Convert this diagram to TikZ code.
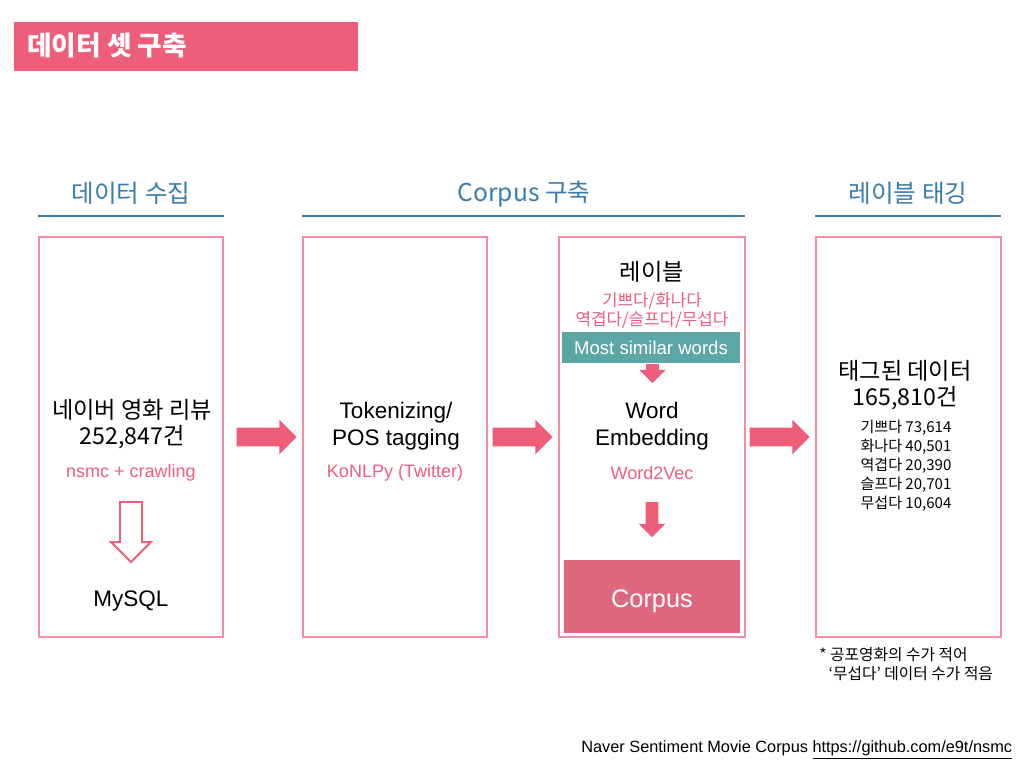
\documentclass[tikz,border=0pt]{standalone}
\usepackage{fontspec}
\usepackage{xcolor}
\setmainfont{Liberation Sans}
\newfontfamily\kr{Noto Sans CJK KR}
\usetikzlibrary{shapes.arrows}
\definecolor{rosered}{HTML}{EE5E7B}
\definecolor{boxpink}{HTML}{F08EA2}
\definecolor{headblue}{HTML}{3A7CAD}
\definecolor{tealbar}{HTML}{5DA6A6}
\definecolor{corpusfill}{HTML}{DE677D}

\begin{document}
\begin{tikzpicture}[x=0.025cm,y=-0.025cm,
    stagebox/.style={draw=boxpink, line width=0.8pt, minimum width=4.6cm, minimum height=10cm, inner sep=0pt},
    heading/.style={text=headblue, font=\kr\fontsize{17.5}{20}\selectfont},
    maintext/.style={align=center, font=\fontsize{16}{19}\selectfont},
    kormain/.style={align=center, font=\kr\fontsize{16.5}{19}\selectfont},
    subtext/.style={text=rosered, align=center, font=\fontsize{12.8}{15}\selectfont},
    flowarrow/.style={single arrow, fill=rosered, inner xsep=0pt, inner ysep=0.225cm, single arrow head extend=0.2cm, minimum height=1.5cm},
    smallarrow/.style={single arrow, fill=rosered, rotate=-90, inner xsep=0pt, inner ysep=0.15cm, single arrow head extend=0.175cm}]
    \useasboundingbox (0,0) rectangle (1024,768);

    % title bar
    \node[fill=rosered, minimum width=8.6cm, minimum height=1.225cm, inner sep=0pt] (titlebar) at (186,46.5) {};
    \node[anchor=west, text=white, font=\kr\bfseries\fontsize{19}{22}\selectfont, inner sep=0pt] (title) at (27,46) {데이터 셋 구축};

    % headings
    \node[heading] (hcollect) at (131,193) {데이터 수집};
    \node[heading] (hcorpus) at (524,194) {Corpus 구축};
    \node[heading] (hlabel) at (908,193) {레이블 태깅};
    \draw[headblue, line width=0.9pt] (38,216) -- (224,216);
    \draw[headblue, line width=0.9pt] (302,216) -- (745,216);
    \draw[headblue, line width=0.9pt] (815,216) -- (1001,216);

    % boxes
    \node[stagebox] (collect) at (131,437) {};
    \node[stagebox] (token) at (395,437) {};
    \node[stagebox, minimum width=4.65cm] (embed) at (652,437) {};
    \node[stagebox, minimum width=4.625cm] (tagged) at (908.5,437) {};

    % data collection
    \node[kormain] (reviews) at (132,424) {네이버 영화 리뷰\\252,847건};
    \node[subtext] (crawl) at (131,473) {nsmc + crawling};
    \node[single arrow, draw=rosered, fill=white, line width=1.4pt, rotate=-90, inner xsep=0pt, inner ysep=0.25cm,
          single arrow head extend=0.225cm, minimum height=1.5cm] (store) at (131,526.5) {};
    \node[maintext] (mysql) at (131,601) {MySQL};

    % tokenizing
    \node[maintext] (tokenize) at (396,426) {Tokenizing/\\POS tagging};
    \node[subtext] (konlpy) at (395,473) {KoNLPy (Twitter)};

    % word embedding
    \node[kormain] (labels) at (652,272) {레이블};
    \node[text=rosered, align=center, font=\kr\fontsize{12}{13.5}\selectfont] (emotions) at (652,311) {기쁘다/화나다\\역겹다/슬프다/무섭다};
    \node[fill=tealbar, text=white, minimum width=4.45cm, minimum height=0.775cm, inner sep=0pt,
          font=\fontsize{13.2}{15}\selectfont] (similar) at (651,347.5) {Most similar words};
    \node[smallarrow, minimum height=0.475cm] (down1) at (652.5,370.5) {};
    \node[maintext] (wordemb) at (652,426) {Word\\Embedding};
    \node[subtext] (w2v) at (652,473) {Word2Vec};
    \node[smallarrow, minimum height=0.875cm] (down2) at (652,516.5) {};
    \node[fill=corpusfill, text=white, minimum width=4.4cm, minimum height=1.825cm, inner sep=0pt,
          text height=20pt, text depth=4pt, font=\fontsize{18}{21}\selectfont] (corpus) at (652,596.5) {Corpus};

    % tagged data
    \node[kormain] (total) at (905,385) {태그된 데이터\\165,810건};
    \node[align=left, font=\kr\fontsize{10.7}{13.5}\selectfont] (counts) at (906,466) {기쁘다 73,614\\화나다 40,501\\역겹다 20,390\\슬프다 20,701\\무섭다 10,604};
    \node[anchor=north west, align=left, inner sep=0pt, font=\kr\fontsize{11.2}{13.5}\selectfont] (note) at (819,647)
        {* 공포영화의 수가 적어\\\hspace{0.6em}‘무섭다’ 데이터 수가 적음};

    % flow arrows
    \node[flowarrow] (step1) at (262,437) {};
    \node[flowarrow] (step2) at (518,437) {};
    \node[flowarrow] (step3) at (775,437) {};

    % source
    \node[anchor=east, font=\fontsize{11.6}{13}\selectfont] (source) at (1017,750) {Naver Sentiment Movie Corpus \underline{https://github.com/e9t/nsmc}};
\end{tikzpicture}
\end{document}
